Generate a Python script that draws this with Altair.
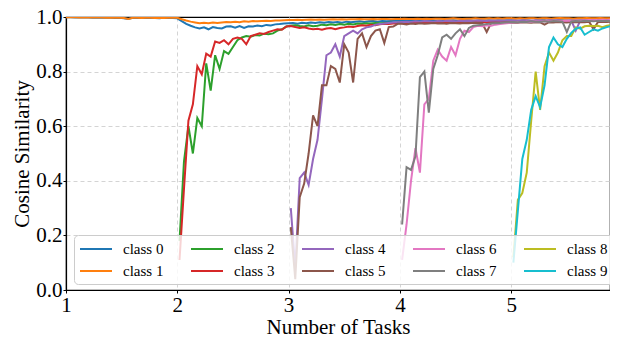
import altair as alt
import pandas as pd

# ---- data ----
STEP = 0.04
class_names = [f"class {i}" for i in range(10)]
start_x = [1.00, 1.00, 2.02, 2.02, 3.02, 3.02, 4.02, 4.02, 5.02, 5.02]
colors = ["#1f77b4", "#ff7f0e", "#2ca02c", "#d62728", "#9467bd",
          "#8c564b", "#e377c2", "#7f7f7f", "#bcbd22", "#17becf"]
x_ticks = [1, 2, 3, 4, 5]
y_ticks = [0.0, 0.2, 0.4, 0.6, 0.8, 1.0]

class0 = [
    0.999, 0.999, 0.998, 0.998, 0.998, 0.998, 0.997, 0.997, 0.998, 0.997, 0.997, 0.996, 0.997, 0.995, 0.993, 0.997, 0.996, 0.996, 0.997, 0.996, 0.996, 0.995, 0.997, 0.996, 0.996,
    0.995, 0.985, 0.975, 0.968, 0.962, 0.958, 0.962, 0.955, 0.963, 0.960, 0.958, 0.965, 0.966, 0.961, 0.967, 0.960, 0.966, 0.965, 0.969, 0.966, 0.971, 0.969, 0.973, 0.974, 0.976,
    0.977, 0.978, 0.975, 0.979, 0.977, 0.980, 0.978, 0.981, 0.979, 0.982, 0.980, 0.982, 0.979, 0.983, 0.981, 0.983, 0.984, 0.982, 0.984, 0.985, 0.983, 0.985, 0.984, 0.985, 0.986,
    0.986, 0.985, 0.987, 0.986, 0.985, 0.987, 0.986, 0.988, 0.986, 0.987, 0.985, 0.987, 0.988, 0.986, 0.987, 0.988, 0.987, 0.986, 0.988, 0.987, 0.988, 0.986, 0.988, 0.987, 0.988,
    0.988, 0.987, 0.986, 0.988, 0.987, 0.985, 0.987, 0.988, 0.986, 0.988, 0.987, 0.988, 0.986, 0.987, 0.988, 0.987, 0.989, 0.987, 0.988, 0.986, 0.988, 0.987, 0.988, 0.987, 0.988,
]
class1 = [
    0.999, 0.999, 0.999, 0.998, 0.999, 0.998, 0.998, 0.998, 0.998, 0.997, 0.998, 0.997, 0.997, 0.996, 0.993, 0.997, 0.997, 0.996, 0.997, 0.997, 0.996, 0.997, 0.996, 0.997, 0.997,
    0.997, 0.992, 0.987, 0.983, 0.980, 0.977, 0.979, 0.977, 0.980, 0.978, 0.980, 0.982, 0.981, 0.983, 0.981, 0.984, 0.983, 0.985, 0.984, 0.985, 0.986, 0.985, 0.987, 0.987, 0.988,
    0.989, 0.989, 0.990, 0.989, 0.990, 0.991, 0.990, 0.991, 0.990, 0.991, 0.992, 0.991, 0.992, 0.991, 0.992, 0.992, 0.993, 0.992, 0.992, 0.993, 0.992, 0.993, 0.993, 0.992, 0.993,
    0.993, 0.994, 0.993, 0.993, 0.994, 0.993, 0.994, 0.993, 0.994, 0.994, 0.993, 0.994, 0.995, 0.994, 0.993, 0.994, 0.994, 0.995, 0.994, 0.994, 0.995, 0.994, 0.995, 0.994, 0.995,
    0.995, 0.994, 0.995, 0.994, 0.995, 0.995, 0.994, 0.995, 0.995, 0.994, 0.995, 0.996, 0.995, 0.995, 0.994, 0.995, 0.995, 0.996, 0.995, 0.995, 0.996, 0.995, 0.995, 0.996, 0.995,
]
class2 = [
    0.18, 0.47, 0.60, 0.50, 0.63, 0.60, 0.83, 0.73, 0.86, 0.81, 0.875, 0.865, 0.89, 0.915, 0.925, 0.93, 0.928, 0.934, 0.932, 0.939, 0.937, 0.94, 0.95, 0.955, 0.965,
    0.968, 0.970, 0.967, 0.965, 0.970, 0.966, 0.968, 0.972, 0.970, 0.973, 0.971, 0.974, 0.972, 0.975, 0.973, 0.976, 0.975, 0.977, 0.976, 0.978, 0.977, 0.978, 0.979, 0.978, 0.979,
    0.980, 0.979, 0.981, 0.980, 0.982, 0.981, 0.980, 0.982, 0.983, 0.981, 0.982, 0.983, 0.982, 0.984, 0.983, 0.982, 0.984, 0.983, 0.985, 0.984, 0.983, 0.985, 0.984, 0.985, 0.984,
    0.985, 0.984, 0.986, 0.985, 0.984, 0.986, 0.985, 0.986, 0.984, 0.986, 0.985, 0.987, 0.986, 0.985, 0.987, 0.986, 0.985, 0.987, 0.986, 0.987, 0.986, 0.987, 0.986, 0.987,
]
class3 = [
    0.11, 0.37, 0.62, 0.68, 0.82, 0.79, 0.866, 0.855, 0.91, 0.905, 0.915, 0.90, 0.92, 0.925, 0.92, 0.90, 0.93, 0.935, 0.94, 0.938, 0.945, 0.95, 0.955, 0.953, 0.965,
    0.967, 0.963, 0.960, 0.962, 0.958, 0.955, 0.957, 0.953, 0.958, 0.960, 0.955, 0.960, 0.962, 0.965, 0.963, 0.967, 0.970, 0.968, 0.972, 0.970, 0.973, 0.975, 0.974, 0.976, 0.977,
    0.978, 0.977, 0.979, 0.978, 0.980, 0.979, 0.978, 0.980, 0.981, 0.979, 0.980, 0.982, 0.981, 0.980, 0.982, 0.981, 0.983, 0.982, 0.981, 0.983, 0.982, 0.984, 0.983, 0.982, 0.984,
    0.983, 0.984, 0.985, 0.984, 0.983, 0.985, 0.984, 0.986, 0.985, 0.984, 0.986, 0.985, 0.986, 0.984, 0.986, 0.985, 0.986, 0.987, 0.985, 0.986, 0.987, 0.986, 0.987, 0.986,
]
class4 = [
    0.30, 0.08, 0.41, 0.43, 0.385, 0.48, 0.55, 0.70, 0.86, 0.87, 0.90, 0.855, 0.93, 0.94, 0.95, 0.94, 0.955, 0.962, 0.965, 0.972, 0.974, 0.976, 0.978, 0.980, 0.981,
    0.982, 0.983, 0.982, 0.984, 0.983, 0.985, 0.984, 0.983, 0.985, 0.984, 0.986, 0.985, 0.984, 0.986, 0.985, 0.986, 0.985, 0.987, 0.986, 0.985, 0.987, 0.986, 0.987, 0.986, 0.987,
    0.987, 0.986, 0.988, 0.987, 0.986, 0.988, 0.987, 0.986, 0.988, 0.987, 0.988, 0.986, 0.985, 0.987, 0.950, 0.986, 0.988, 0.987, 0.988, 0.987, 0.988, 0.987, 0.988, 0.988,
]
class5 = [
    0.23, 0.04, 0.34, 0.39, 0.50, 0.64, 0.60, 0.75, 0.75, 0.82, 0.81, 0.76, 0.90, 0.87, 0.76, 0.92, 0.94, 0.89, 0.93, 0.95, 0.955, 0.905, 0.963, 0.965, 0.975,
    0.975, 0.973, 0.976, 0.974, 0.977, 0.975, 0.976, 0.978, 0.976, 0.977, 0.975, 0.978, 0.977, 0.976, 0.978, 0.977, 0.979, 0.978, 0.977, 0.945, 0.978, 0.979, 0.978, 0.980, 0.979,
    0.980, 0.979, 0.981, 0.980, 0.979, 0.981, 0.980, 0.972, 0.981, 0.980, 0.982, 0.981, 0.980, 0.982, 0.981, 0.982, 0.981, 0.983, 0.955, 0.982, 0.983, 0.982, 0.983, 0.982,
]
class6 = [
    0.11, 0.24, 0.40, 0.52, 0.43, 0.68, 0.70, 0.84, 0.88, 0.855, 0.84, 0.89, 0.86, 0.92, 0.95, 0.945, 0.963, 0.968, 0.966, 0.970, 0.968, 0.972, 0.974, 0.976, 0.978,
    0.980, 0.982, 0.981, 0.983, 0.982, 0.984, 0.983, 0.985, 0.984, 0.986, 0.985, 0.986, 0.987, 0.986, 0.988, 0.987, 0.988, 0.989, 0.988, 0.989, 0.990, 0.989, 0.990, 0.990,
]
class7 = [
    0.24, 0.45, 0.44, 0.49, 0.78, 0.80, 0.65, 0.81, 0.86, 0.925, 0.935, 0.92, 0.94, 0.955, 0.93, 0.96, 0.968, 0.970, 0.972, 0.974, 0.976, 0.977, 0.978, 0.980, 0.981,
    0.982, 0.981, 0.983, 0.982, 0.984, 0.983, 0.982, 0.984, 0.983, 0.985, 0.984, 0.983, 0.945, 0.984, 0.985, 0.984, 0.986, 0.985, 0.984, 0.986, 0.985, 0.986, 0.985, 0.986,
]
class8 = [
    0.12, 0.33, 0.355, 0.43, 0.62, 0.80, 0.66, 0.82, 0.87, 0.84, 0.87, 0.915, 0.93, 0.93, 0.962, 0.957, 0.966, 0.968, 0.967, 0.968, 0.963, 0.968, 0.971, 0.974,
]
class9 = [
    0.10, 0.29, 0.48, 0.55, 0.66, 0.71, 0.67, 0.75, 0.89, 0.925, 0.90, 0.89, 0.92, 0.942, 0.957, 0.962, 0.935, 0.945, 0.955, 0.95, 0.958, 0.963, 0.967, 0.972,
]

series = [class0, class1, class2, class3, class4, class5, class6, class7, class8, class9]

rows = []
for k, vals in enumerate(series):
    for i, v in enumerate(vals):
        rows.append({"x": round(start_x[k] + STEP * i, 2), "y": v, "cls": class_names[k]})
df = pd.DataFrame(rows)

FONT = "Liberation Serif"

chart = alt.Chart(df).mark_line(strokeWidth=2, clip=True).encode(
    x=alt.X("x:Q",
            scale=alt.Scale(domain=[1, 5.888], nice=False, zero=False),
            axis=alt.Axis(values=x_ticks, format="d", title="Number of Tasks",
                          labelFont=FONT, titleFont=FONT,
                          labelFlush=False, titlePadding=1,
                          gridOpacity={"condition": {"test": "datum.value <= 1", "value": 0},
                                       "value": 1})),
    y=alt.Y("y:Q",
            scale=alt.Scale(domain=[0, 1], nice=False),
            axis=alt.Axis(values=y_ticks, format=".1f", title="Cosine Similarity",
                          labelFont=FONT, titleFont=FONT, titlePadding=3,
                          gridOpacity={"condition": {"test": "datum.value <= 0 || datum.value >= 1",
                                                     "value": 0},
                                       "value": 1})),
    color=alt.Color("cls:N",
                    scale=alt.Scale(domain=class_names, range=colors),
                    legend=alt.Legend(title=None, orient="none", legendX=8, legendY=218,
                                      columns=5, symbolType="M-1,0L3,0", symbolSize=256,
                                      symbolStrokeWidth=2, labelFont=FONT, labelFontSize=15,
                                      labelColor="black", labelOffset=26, columnPadding=23,
                                      rowPadding=5, padding=5,
                                      fillColor="rgba(255,255,255,0.8)",
                                      strokeColor="#cccccc", cornerRadius=4)),
    detail="cls:N",
).properties(
    width=544, height=273,
    autosize=alt.AutoSizeParams(type="none"),
    padding={"left": 58, "top": 9, "right": 0, "bottom": 47},
).configure_view(
    stroke="black", strokeWidth=1.2
).configure_axis(
    domainColor="black", tickColor="black", labelColor="black", titleColor="black",
    labelFont=FONT, titleFont=FONT, labelFontSize=21, titleFontSize=21,
    titleFontWeight="normal", gridColor="#d4d4d4", gridDash=[4, 3], tickSize=3,
    domainWidth=1.2, labelPadding=1,
)

chart.save("out.html", embed_options={"renderer": "svg", "actions": False})
